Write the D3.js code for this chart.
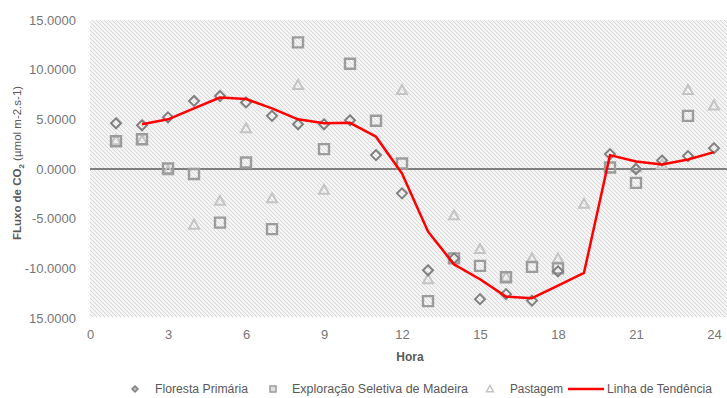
<!DOCTYPE html>
<html><head><meta charset="utf-8">
<script src="https://cdn.jsdelivr.net/npm/d3@7"></script>
<style>body{margin:0;background:#fff;overflow:hidden}svg{display:block}</style>
</head><body>
<script>
const hours = d3.range(1, 25);
const floresta = [4.6,4.4,5.2,6.85,7.35,6.7,5.35,4.5,4.5,4.9,1.4,-2.45,-10.2,-9.0,-13.1,-12.6,-13.25,-10.3,null,1.5,0.0,0.85,1.3,2.1];
const exploracao = [2.8,3.0,0.05,-0.5,-5.4,0.65,-6.05,12.75,2.0,10.6,4.85,0.55,-13.3,-9.0,-9.75,-10.9,-9.85,-10.0,null,0.15,-1.4,null,5.35,null];
const pastagem = [2.9,2.9,-0.15,-5.6,-3.2,4.1,-2.95,8.45,-2.1,null,null,7.95,-11.1,-4.65,-8.05,-10.85,-9.0,-9.0,-3.5,null,0.15,0.45,7.95,6.4];
const tendencia = [null,4.5,5.0,6.1,7.2,7.05,6.1,5.0,4.6,4.65,3.25,-0.45,-6.3,-9.6,-11.1,-12.85,-13.0,-11.75,-10.45,1.4,0.75,0.45,0.95,1.7];
const xTicks = [0,3,6,9,12,15,18,21,24];
const yTicks = [-15,-10,-5,0,5,10,15];
const yTickLabels = ["15.0000","-10.0000","-5.0000","0.0000","5.0000","10.0000","15.0000"];
const legendNames = ["Floresta Primária","Exploração Seletiva de Madeira","Pastagem","Linha de Tendência"];

const W = 727, H = 398;
const svg = d3.select("body").append("svg").attr("width", W).attr("height", H);
const x = d3.scaleLinear().domain([0, 24]).range([90, 714]);
const y = d3.scaleLinear().domain([-15, 15]).range([318, 20]);

const defs = svg.append("defs");
const pat = defs.append("pattern").attr("id","hatch").attr("patternUnits","userSpaceOnUse").attr("width",4).attr("height",4);
pat.append("rect").attr("width",4).attr("height",4).attr("fill","#f4f4f4");
pat.append("path").attr("d","M-1,-1 L5,5 M3,-1 L5,1 M-1,3 L1,5").attr("stroke","#d9d9d9").attr("stroke-width",1);

svg.append("rect").attr("x",90).attr("y",20).attr("width",W-90).attr("height",297).attr("fill","url(#hatch)");

svg.append("line").attr("x1",90).attr("x2",W).attr("y1",y(0)).attr("y2",y(0)).attr("stroke","#7f7f7f").attr("stroke-width",2);

const font = "'Liberation Sans', Arial, sans-serif";
const yAxis = d3.axisLeft(y).tickValues(yTicks).tickSize(0).tickPadding(0).tickFormat((d,i)=>yTickLabels[i]);
const ya = svg.append("g").attr("transform","translate(76,0)").call(yAxis);
ya.select(".domain").remove();
ya.selectAll("text").attr("font-family",font).attr("font-size",13).attr("fill","#767676");

const xAxis = d3.axisBottom(x).tickValues(xTicks).tickSize(0).tickPadding(0).tickFormat(d3.format("d"));
const xa = svg.append("g").attr("transform","translate(0,330)").call(xAxis);
xa.select(".domain").remove();
xa.selectAll("text").attr("font-family",font).attr("font-size",13).attr("fill","#767676");

svg.append("text").attr("x",410).attr("y",361).attr("text-anchor","middle").attr("font-family",font)
  .attr("font-size",12).attr("font-weight","bold").attr("fill","#595959").text("Hora");

const yt = svg.append("text").attr("transform","translate(21,163) rotate(-90)").attr("text-anchor","middle")
  .attr("font-family",font).attr("font-size",11.5).attr("fill","#595959");
yt.append("tspan").attr("font-weight","bold").text("FLuxo de CO");
yt.append("tspan").attr("font-weight","bold").attr("font-size",8).attr("dy",3).text("2");
yt.append("tspan").attr("dy",-3).text(" (µmol m-2.s-1)");

const diamond = s => `M0,${-s}L${s},0L0,${s}L${-s},0Z`;
const square = s => `M${-s},${-s}H${s}V${s}H${-s}Z`;
const tri = s => `M0,${-s}L${s},${s*0.8}L${-s},${s*0.8}Z`;

function drawSeries(vals, pathFn, size, color, sw){
  svg.append("g").selectAll("path").data(hours.map((h,i)=>({h, v: vals[i]})).filter(d=>d.v!==null))
    .join("path").attr("d", pathFn(size)).attr("transform", d=>`translate(${x(d.h)},${y(d.v)})`)
    .attr("fill","none").attr("stroke",color).attr("stroke-width",sw);
}
drawSeries(pastagem, tri, 5, "#c4c4c4", 2);
drawSeries(exploracao, square, 5, "#9c9c9c", 2.4);
drawSeries(floresta, diamond, 5, "#808080", 2);

const line = d3.line().defined(d=>d.v!==null).x(d=>x(d.h)).y(d=>y(d.v));
svg.append("path").datum(hours.map((h,i)=>({h, v: tendencia[i]}))).attr("d", line)
  .attr("fill","none").attr("stroke","#ff0000").attr("stroke-width",2.5).attr("stroke-linejoin","round");

// legend
const ly = 389;
const lg = svg.append("g");
lg.append("path").attr("d",diamond(3)).attr("transform",`translate(135,${ly})`).attr("fill","#bdbdbd").attr("stroke","#808080").attr("stroke-width",1.5);
lg.append("path").attr("d",square(3)).attr("transform",`translate(273,${ly})`).attr("fill","#e0e0e0").attr("stroke","#9c9c9c").attr("stroke-width",1.5);
lg.append("path").attr("d",tri(3.5)).attr("transform",`translate(490,${ly})`).attr("fill","none").attr("stroke","#c4c4c4").attr("stroke-width",1.5);
lg.append("line").attr("x1",568).attr("x2",604).attr("y1",ly).attr("y2",ly).attr("stroke","#ff0000").attr("stroke-width",2.5);
const lx = [155, 292, 510, 607];
const lw = [93, 176, 53, 105];
legendNames.forEach((n,i)=>{
  lg.append("text").attr("x",lx[i]).attr("y",ly+4).attr("font-family",font).attr("font-size",12)
    .attr("fill","#595959").attr("textLength", lw[i]).attr("lengthAdjust","spacingAndGlyphs").text(n);
});
</script>
</body></html>
